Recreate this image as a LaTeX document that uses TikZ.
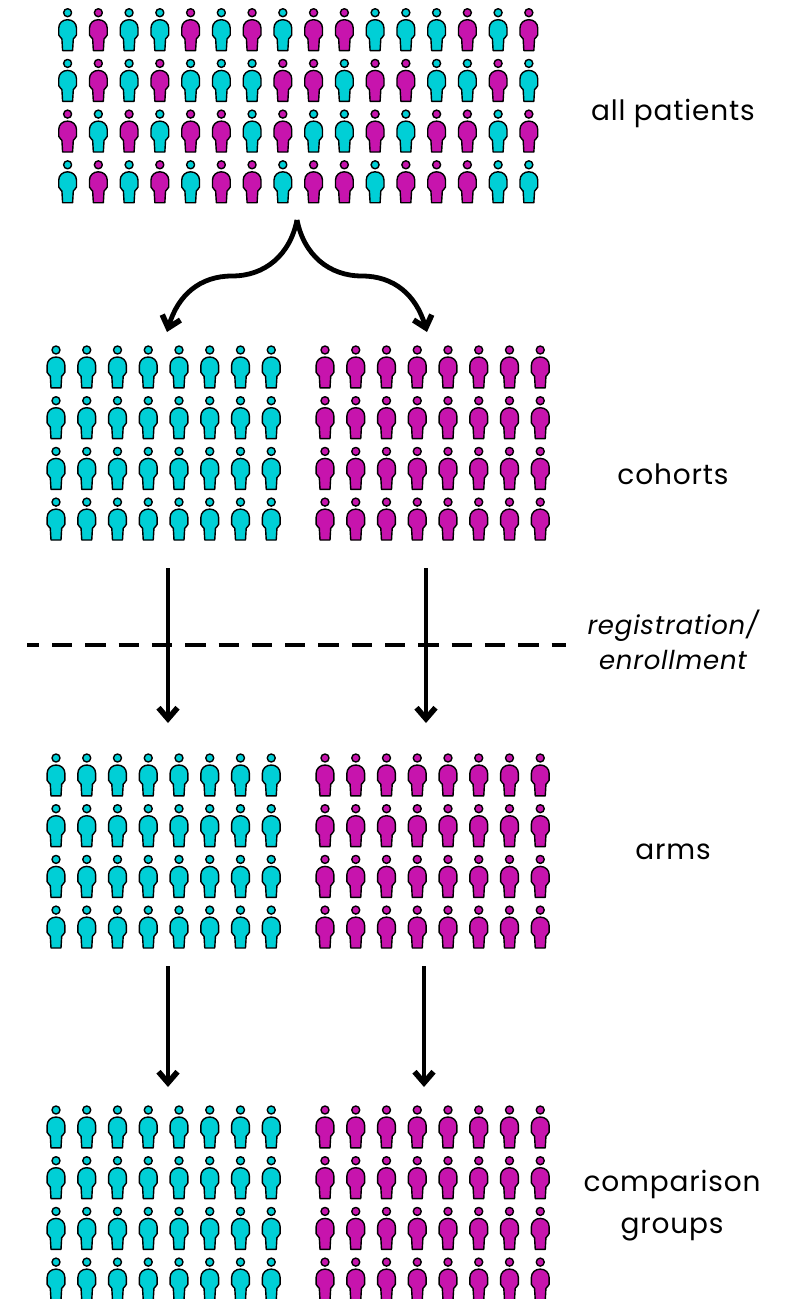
\documentclass[tikz,border=0pt]{standalone}
\usepackage{fontspec}
\setmainfont{Poppins}[LetterSpace=3]
\usetikzlibrary{arrows.meta}
\definecolor{mcyan}{rgb}{0, 0.81, 0.84}
\definecolor{mmagenta}{rgb}{0.78, 0.08, 0.68}
\tikzset{patient/.pic = {\draw [line width=1.4pt, line join=round, fill=#1] (0, 0) circle [radius=4];
                         \draw [line width=1.4pt, line join=round, fill=#1] (-5, 37.9) -- (-5.7, 26.2)
                           .. controls (-5.8, 25) and (-6.6, 24.8) .. (-7.2, 24.6)
                           .. controls (-8.5, 24.2) and (-8.9, 23.4) .. (-8.9, 22.2) -- (-8.9, 15.5)
                           .. controls (-8.9, 10.5) and (-5, 7) .. (0, 7)
                           .. controls (5, 7) and (8.9, 10.5) .. (8.9, 15.5) -- (8.9, 22.2)
                           .. controls (8.9, 23.4) and (8.5, 24.2) .. (7.2, 24.6)
                           .. controls (6.6, 24.8) and (5.8, 25) .. (5.7, 26.2) -- (5, 37.9) -- cycle;}}
\tikzset{flow/.style = {line width=4.8pt, -{Straight Barb[length=11pt, width=19pt, line width=5.6pt]}}}
\tikzset{label/.style = {font=\fontsize{28}{35}\selectfont, align=center}}
% four rows of eight, all in one colour
\newcommand{\patientblock}[3]{
  \foreach \r in {0, ..., 3} {
    \foreach \c in {0, ..., 7} {
      \pic at ({#1 + \c*30.75}, {#2 + \r*50.7}) {patient=#3};
    }
  }
}
\begin{document}
\begin{tikzpicture}[x=1pt, y=-1pt]
  \useasboundingbox (0, 0) rectangle (785, 1299);
  % all patients
  \foreach \rowcolors [count=\r from 0] in
    {{mcyan,mmagenta,mcyan,mcyan,mmagenta,mcyan,mmagenta,mcyan,mmagenta,mmagenta,mcyan,mcyan,mcyan,mmagenta,mcyan,mmagenta},
     {mcyan,mmagenta,mcyan,mmagenta,mcyan,mcyan,mcyan,mmagenta,mmagenta,mcyan,mmagenta,mmagenta,mcyan,mcyan,mmagenta,mcyan},
     {mmagenta,mcyan,mmagenta,mcyan,mmagenta,mmagenta,mcyan,mmagenta,mcyan,mcyan,mmagenta,mcyan,mmagenta,mmagenta,mcyan,mmagenta},
     {mcyan,mmagenta,mcyan,mmagenta,mcyan,mmagenta,mmagenta,mcyan,mmagenta,mmagenta,mcyan,mmagenta,mmagenta,mmagenta,mcyan,mcyan}} {
    \foreach \tint [count=\c from 0] in \rowcolors {
      \pic at ({67.6 + \c*30.75}, {12.7 + \r*50.7}) {patient=\tint};
    }
  }
  % the blocks below
  \patientblock{56}{350}{mcyan}
  \patientblock{325}{350}{mmagenta}
  \patientblock{56}{758}{mcyan}
  \patientblock{325}{758}{mmagenta}
  \patientblock{56}{1110}{mcyan}
  \patientblock{325}{1110}{mmagenta}

  \node [label] (allpatients) at (673, 113) {all patients};
  \node [label] (cohorts) at (673, 474) {cohorts};
  \node [label, font=\fontsize{26}{35}\selectfont\itshape] (registration) at (673, 640) {registration/\\enrollment};
  \node [label] (arms) at (673, 852) {arms};
  \node [label, font=\fontsize{28}{42}\selectfont] (groups) at (672, 1206) {comparison\\groups};

  \coordinate (split) at (297, 220);
  \coordinate (midleft) at (232, 276);
  \coordinate (midright) at (362, 276);
  \coordinate (cohortleft) at (167, 332);
  \coordinate (cohortright) at (427, 332);
  \coordinate (regleftstart) at (168, 568);
  \coordinate (regleftend) at (168, 723);
  \coordinate (regrightstart) at (426, 568);
  \coordinate (regrightend) at (426, 723);
  \coordinate (armleftstart) at (168, 966);
  \coordinate (armleftend) at (168, 1087);
  \coordinate (armrightstart) at (424, 966);
  \coordinate (armrightend) at (424, 1087);
  \coordinate (dashstart) at (27, 645);
  \coordinate (dashend) at (566, 645);

  \draw [flow] (split) .. controls (290, 255) and (265, 276) .. (midleft)
    .. controls (200, 276) and (178, 295) .. (cohortleft);
  \draw [flow] (split) .. controls (304, 255) and (329, 276) .. (midright)
    .. controls (394, 276) and (416, 295) .. (cohortright);
  \draw [flow] (regleftstart) -- (regleftend);
  \draw [flow] (regrightstart) -- (regrightend);
  \draw [flow] (armleftstart) -- (armleftend);
  \draw [flow] (armrightstart) -- (armrightend);
  \draw [line width=3.6pt, dash pattern=on 20.3pt off 13pt, dash phase=8.3pt] (dashstart) -- (dashend);
\end{tikzpicture}
\end{document}
